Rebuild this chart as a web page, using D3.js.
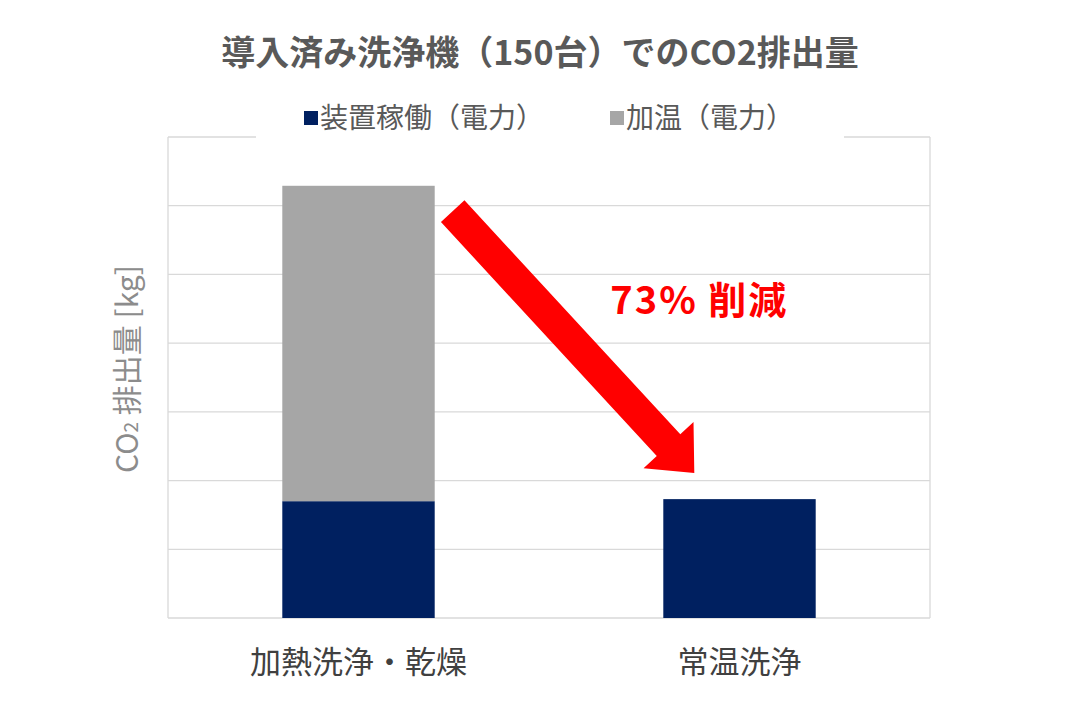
<!DOCTYPE html>
<html>
<head>
<meta charset="utf-8">
<script src="https://cdn.jsdelivr.net/npm/d3@7"></script>
<style>
    body { margin: 0; background: #fff; }
    text { font-family: "Noto Sans CJK JP", "Noto Sans", sans-serif; }
</style>
</head>
<body>
<div id="chart"></div>
<script>
// data (no tick labels in the original, unit steps assumed)
let categories = ["加熱洗浄・乾燥", "常温洗浄"];
let seriesNames = ["装置稼働（電力）", "加温（電力）"];
let operation = [1.70, 1.73];
let heating = [4.59, 0];
let yTicks = [0, 1, 2, 3, 4, 5, 6, 7];
let colors = ["#002060", "#a6a6a6"];

let width = 1080, height = 720;
let margin = {top: 137, right: 150, bottom: 102, left: 168};

let svg = d3.select("#chart").append("svg")
    .attr("width", width)
    .attr("height", height);

let x = d3.scaleBand()
    .domain(categories)
    .range([margin.left, width - margin.right])
    .paddingInner(0.6)
    .paddingOuter(0.3);

let y = d3.scaleLinear()
    .domain([0, 7])
    .range([height - margin.bottom, margin.top]);

//gridlines
svg.append("g")
    .selectAll("line")
    .data(yTicks)
    .join("line")
    .attr("x1", margin.left)
    .attr("x2", width - margin.right)
    .attr("y1", d => y(d))
    .attr("y2", d => y(d))
    .attr("stroke", "#d9d9d9")
    .attr("stroke-width", 1.3);

//plot border sides
[margin.left, width - margin.right].forEach(px => {
    svg.append("line")
        .attr("x1", px).attr("x2", px)
        .attr("y1", y(7)).attr("y2", y(0))
        .attr("stroke", "#d9d9d9")
        .attr("stroke-width", 1.3);
});

//stacked bars
let table = categories.map((c, i) => ({cat: c, op: operation[i], heat: heating[i]}));
let stacked = d3.stack().keys(["op", "heat"])(table);

svg.append("g")
    .selectAll("g")
    .data(stacked)
    .join("g")
    .attr("fill", (d, i) => colors[i])
    .selectAll("rect")
    .data(d => d)
    .join("rect")
    .attr("x", d => x(d.data.cat))
    .attr("width", x.bandwidth())
    .attr("y", d => y(d[1]))
    .attr("height", d => y(d[0]) - y(d[1]));

//category labels
svg.append("g")
    .selectAll("text")
    .data(categories)
    .join("text")
    .attr("x", d => x(d) + x.bandwidth() / 2)
    .attr("y", y(0) + 55)
    .attr("text-anchor", "middle")
    .attr("fill", "#404040")
    .style("font-size", "31px")
    .text(d => d);

//y axis title
let yTitle = svg.append("text")
    .attr("transform", `translate(138,369) rotate(-90)`)
    .attr("text-anchor", "middle")
    .attr("fill", "#8c8c8c")
    .style("font-size", "30px");
yTitle.append("tspan").text("CO");
yTitle.append("tspan").style("font-size", "19px").text("2");
yTitle.append("tspan").text(" 排出量 [kg]");

//title
svg.append("text")
    .attr("x", width / 2)
    .attr("y", 65)
    .attr("text-anchor", "middle")
    .attr("fill", "#595959")
    .style("font-size", "34px")
    .style("font-weight", "bold")
    .text("導入済み洗浄機（150台）でのCO2排出量");

//legend, white box over the top border
svg.append("rect")
    .attr("x", 256).attr("y", 96)
    .attr("width", 588).attr("height", 44)
    .attr("fill", "#fff");

let legendX = [304, 610];
let legend = svg.append("g")
    .selectAll("g")
    .data(seriesNames)
    .join("g")
    .attr("transform", (d, i) => `translate(${legendX[i]},118)`);

legend.append("rect")
    .attr("x", 0).attr("y", -7)
    .attr("width", 14).attr("height", 14)
    .attr("fill", (d, i) => colors[i]);

legend.append("text")
    .attr("x", 16)
    .attr("y", 10)
    .attr("fill", "#595959")
    .style("font-size", "28px")
    .text(d => d);

//red reduction arrow from the first bar top to the second bar
let x0 = x(categories[0]) + x.bandwidth() + 18, y0 = y(5.92);
let x1 = x(categories[1]) + 31, y1 = y(2.11);
let ang = Math.atan2(y1 - y0, x1 - x0);
let len = Math.hypot(x1 - x0, y1 - y0);
let shaftW = 32, headW = 68, headL = 38;
let arrowPts = [
    [0, -shaftW / 2], [len - headL, -shaftW / 2], [len - headL, -headW / 2],
    [len, 0],
    [len - headL, headW / 2], [len - headL, shaftW / 2], [0, shaftW / 2]
];
svg.append("polygon")
    .attr("points", arrowPts.map(p => p.join(",")).join(" "))
    .attr("transform", `translate(${x0},${y0}) rotate(${ang * 180 / Math.PI})`)
    .attr("fill", "#ff0000");

svg.append("text")
    .attr("x", x(categories[1]) - 53)
    .attr("y", y(4.42))
    .attr("fill", "#ff0000")
    .style("font-size", "38px")
    .style("font-weight", "bold")
    .style("letter-spacing", "2px")
    .text("73% 削減");
</script>
</body>
</html>
